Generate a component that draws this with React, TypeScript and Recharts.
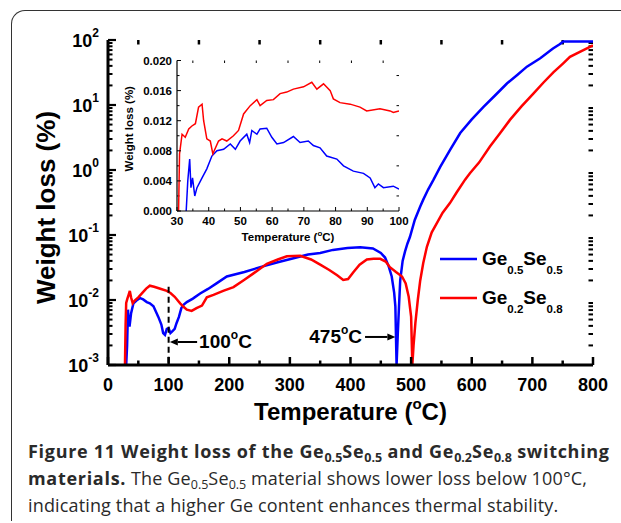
import React from "react"
import { LineChart, Line, XAxis, YAxis, ReferenceLine, Legend, Label } from "recharts"

// Ge0.5Se0.5, main TGA curve (temperature in °C, weight loss in %)
const ge55Temp = [30, 31.5, 33, 34, 35.5, 38, 42, 47, 53, 58, 64, 69, 75, 83, 88, 91, 94, 97, 100, 103, 106, 110, 113, 117, 121, 125, 130, 140, 152, 165, 179, 196, 225, 251, 280, 306, 330, 350, 371, 395, 416, 437, 450, 457, 463, 468, 472, 474, 476, 478, 480, 482, 486, 490, 494, 498, 506, 515, 520, 528, 537, 548, 565, 581, 600, 619, 640, 658, 675, 691, 713, 734, 745, 751, 800]
const ge55Loss = [0.001, 0.002, 0.0071, 0.0045, 0.0039, 0.0062, 0.0089, 0.0098, 0.0107, 0.0102, 0.0093, 0.0089, 0.008, 0.0055, 0.0042, 0.0031, 0.0029, 0.0036, 0.0037, 0.0031, 0.0033, 0.0036, 0.0044, 0.0055, 0.0075, 0.0085, 0.0093, 0.0105, 0.0126, 0.0148, 0.018, 0.023, 0.027, 0.032, 0.038, 0.044, 0.05, 0.053, 0.059, 0.063, 0.065, 0.062, 0.053, 0.045, 0.033, 0.023, 0.013, 0.008, 0.001, 0.003, 0.008, 0.02, 0.04, 0.056, 0.074, 0.093, 0.17, 0.275, 0.35, 0.5, 0.71, 1.12, 2.1, 3.7, 6.0, 9.3, 14.5, 21.4, 29, 38.9, 52.5, 74, 86, 95, 95]

// Ge0.2Se0.8, main TGA curve
const ge28Temp = [28, 29, 30, 32, 34, 36, 38, 40.7, 44, 50, 57, 63, 69, 76, 85, 97, 103, 110, 119, 125, 130, 138, 146, 155, 163, 174, 190, 207, 225, 240, 262, 280, 295, 317, 335, 350, 365, 378, 388, 396, 405, 415, 427, 438, 449, 458, 465, 475, 485, 491, 496, 500, 502, 504, 507, 511, 515, 520, 526, 534, 542, 552, 564, 575, 589, 597, 612, 630, 646, 663, 682, 702, 718, 735, 750, 762, 780, 800]
const ge28Loss = [0.001, 0.004, 0.009, 0.0105, 0.012, 0.0138, 0.011, 0.0089, 0.0098, 0.011, 0.013, 0.015, 0.0166, 0.016, 0.015, 0.0138, 0.0128, 0.0112, 0.0089, 0.0078, 0.0071, 0.0068, 0.0075, 0.0082, 0.011, 0.012, 0.0138, 0.0158, 0.0205, 0.0257, 0.036, 0.042, 0.047, 0.048, 0.042, 0.035, 0.029, 0.024, 0.0204, 0.021, 0.027, 0.035, 0.042, 0.043, 0.043, 0.039, 0.032, 0.027, 0.023, 0.018, 0.0112, 0.0055, 0.001, 0.002, 0.0044, 0.01, 0.02, 0.037, 0.066, 0.11, 0.15, 0.22, 0.31, 0.45, 0.71, 0.89, 1.3, 2.3, 3.6, 5.9, 9.5, 15.1, 22, 32, 43, 55, 67, 83]

// inset, 30-100 °C, linear scale
const ge55InsetTemp = [32.9, 33.4, 34, 34.4, 34.9, 35.6, 36.3, 37.9, 39.4, 41, 42.6, 44.7, 46.8, 48.4, 49.9, 52, 52.9, 53.6, 55.2, 56.2, 58.3, 59.9, 61.5, 63.6, 66.7, 68.8, 71.4, 73, 75.1, 77.2, 80.4, 82.5, 85.6, 88.8, 90.9, 92.4, 93.5, 95.1, 98.2, 100]
const ge55InsetLoss = [0, 0.004, 0.0069, 0.0031, 0.0044, 0.002, 0.0031, 0.0044, 0.0056, 0.0073, 0.008, 0.0082, 0.0089, 0.0082, 0.0093, 0.0102, 0.0091, 0.0107, 0.0102, 0.0109, 0.011, 0.0098, 0.0089, 0.0091, 0.0099, 0.0091, 0.0093, 0.0087, 0.0084, 0.0073, 0.0069, 0.006, 0.0053, 0.005, 0.0044, 0.0031, 0.0036, 0.0031, 0.0033, 0.0029]
const ge28InsetTemp = [30.5, 30.8, 31.6, 32.6, 33.7, 34.7, 35.8, 36.8, 37.9, 38.4, 39.4, 40.5, 41.3, 43.1, 44.2, 45.7, 47.8, 49.4, 51, 53.1, 55.2, 56.2, 58.3, 60.4, 62.5, 64.6, 66.7, 69.9, 72.5, 74.1, 76.2, 78.3, 79.3, 81.4, 84.6, 87.7, 89.8, 94, 97.2, 98.2, 100]
const ge28InsetLoss = [0, 0.0076, 0.0102, 0.0098, 0.0109, 0.0113, 0.0116, 0.0138, 0.0142, 0.012, 0.0096, 0.0093, 0.0076, 0.0093, 0.0096, 0.0093, 0.01, 0.0107, 0.0129, 0.014, 0.0148, 0.014, 0.0147, 0.0148, 0.0156, 0.0158, 0.0162, 0.0165, 0.0171, 0.0162, 0.0169, 0.016, 0.0149, 0.0144, 0.0142, 0.0138, 0.0133, 0.0136, 0.0133, 0.0131, 0.0133]

const seriesNames = ["Ge0.5Se0.5", "Ge0.2Se0.8"]
const seriesColors = ["#0000ff", "#ff0000"]

const mainXMajor = [0, 100, 200, 300, 400, 500, 600, 700, 800]
const mainXMinor = [50, 150, 250, 350, 450, 550, 650, 750]
const mainYDecades = [0.001, 0.01, 0.1, 1, 10, 100]
const mainYExponents = ["-3", "-2", "-1", "0", "1", "2"]
const insetXMajor = [30, 40, 50, 60, 70, 80, 90, 100]
const insetXMinor = [35, 45, 55, 65, 75, 85, 95]
const insetYMajor = [0, 0.004, 0.008, 0.012, 0.016, 0.02]
const insetYMinor = [0.002, 0.006, 0.01, 0.014, 0.018]

// log axis minors: 2..9 within each decade
const mainYMinor = mainYDecades.slice(0, -1).flatMap((d) => [2, 3, 4, 5, 6, 7, 8, 9].map((k) => k * d))

const toPoints = (t: number[], v: number[]) => t.map((x, i) => ({ t: x, v: v[i] }))
const ge55 = toPoints(ge55Temp, ge55Loss)
const ge28 = toPoints(ge28Temp, ge28Loss)
const ge55Inset = toPoints(ge55InsetTemp, ge55InsetLoss)
const ge28Inset = toPoints(ge28InsetTemp, ge28InsetLoss)

const FONT = "'Liberation Sans', Arial, Helvetica, sans-serif"
const boldText = { fontFamily: FONT, fontWeight: 700, fill: "#000" }

// inward ticks: negative tickSize, and tickMargin = -tickSize so that the label
// callback gets x,y on the axis line itself
const inward = (len: number, w: number) => ({
  tickSize: -len,
  tickMargin: len,
  tickLine: { stroke: "#000", strokeWidth: w },
})

const noLabel = () => <g />

const mainXLabel = (p: any) => (
  <text x={p.x} y={p.y + 26} textAnchor="middle" fontSize={18} style={boldText}>{p.payload.value}</text>
)
const mainYLabel = (p: any) => (
  <text x={p.x - 9} y={p.y + 6.5} textAnchor="end" fontSize={18} style={boldText}>
    <tspan>10</tspan>
    <tspan dy={-10} fontSize={12}>{mainYExponents[mainYDecades.indexOf(p.payload.value)]}</tspan>
  </text>
)
const insetXLabel = (p: any) => (
  <text x={p.x} y={p.y + 14} textAnchor="middle" fontSize={11.5} style={boldText}>{p.payload.value}</text>
)
const insetYLabel = (p: any) => (
  <text x={p.x - 5} y={p.y + 4} textAnchor="end" fontSize={11.5} style={boldText}>
    {Number(p.payload.value).toFixed(3)}
  </text>
)

// minor ticks: a reference line across the plot, drawn only as two short stubs at its ends
function minorStub(len: number, w: number) {
  return (p: any) => {
    const { x1, y1, x2, y2 } = p
    if (x1 === x2) {
      const top = Math.min(y1, y2)
      const bottom = Math.max(y1, y2)
      return (
        <g>
          <line x1={x1} x2={x1} y1={bottom} y2={bottom - len} stroke="#000" strokeWidth={w} />
          <line x1={x1} x2={x1} y1={top} y2={top + len} stroke="#000" strokeWidth={w} />
        </g>
      )
    }
    const left = Math.min(x1, x2)
    const right = Math.max(x1, x2)
    return (
      <g>
        <line x1={left} x2={left + len} y1={y1} y2={y1} stroke="#000" strokeWidth={w} />
        <line x1={right} x2={right - len} y1={y1} y2={y1} stroke="#000" strokeWidth={w} />
      </g>
    )
  }
}

function ChemName({ name, size, sub }: { name: string; size: number; sub: number }) {
  const parts = name.match(/[A-Z][a-z]*|[\d.]+/g) || []
  return (
    <span style={{ fontFamily: FONT, fontWeight: 700, fontSize: size, color: "#000", whiteSpace: "nowrap" }}>
      {parts.map((p, i) =>
        /^[\d.]+$/.test(p) ? (
          <span key={i} style={{ fontSize: sub, position: "relative", top: 9 }}>{p}</span>
        ) : (
          <span key={i}>{p}</span>
        )
      )}
    </span>
  )
}

function renderLegend(props: any) {
  const items = (props.payload || [])
    .filter((e: any) => seriesNames.includes(e.value))
    .sort((a: any, b: any) => seriesNames.indexOf(a.value) - seriesNames.indexOf(b.value))
  return (
    <div>
      {items.map((e: any) => (
        <div key={e.value} style={{ display: "flex", alignItems: "center", height: 39 }}>
          <svg width={42} height={8} style={{ marginRight: 2 }}>
            <line x1={2} x2={39} y1={4} y2={4} stroke={e.color} strokeWidth={2.5} />
          </svg>
          <ChemName name={e.value} size={19} sub={11.5} />
        </div>
      ))}
    </div>
  )
}

// arrow from (x1,y1) to the head at (x2,y2), with the temperature written at the tail
function arrowShape(text: string, textSide: "left" | "right") {
  return (p: any) => {
    const { x1, y1, x2, y2 } = p
    const dir = Math.sign(x2 - x1) || 1
    const head = 8
    return (
      <g>
        <line x1={x1} y1={y1} x2={x2 - dir * head} y2={y2} stroke="#000" strokeWidth={2} />
        <polygon
          points={`${x2},${y2} ${x2 - dir * head},${y2 - 3.5} ${x2 - dir * head},${y2 + 3.5}`}
          fill="#000"
        />
        <text
          x={textSide === "right" ? x1 + 2 : x1 - 3}
          y={y1 + 6.5}
          textAnchor={textSide === "right" ? "start" : "end"}
          fontSize={19}
          style={boldText}
        >
          <tspan>{text}</tspan>
          <tspan dy={-9} fontSize={12}>o</tspan>
          <tspan dy={9}>C</tspan>
        </text>
      </g>
    )
  }
}

const num = { type: "number" as const, interval: 0 as const, allowDataOverflow: true }

function MainChart() {
  const axisLine = { stroke: "#000", strokeWidth: 3 }
  const xDom: [number, number] = [0, 800]
  const yDom: [number, number] = [0.001, 100]
  return (
    <LineChart width={621} height={430} margin={{ top: 40, right: 28, bottom: 35, left: 38 }}>
      <XAxis {...num} {...inward(8, 2.5)} xAxisId="bottom" dataKey="t" domain={xDom}
        ticks={mainXMajor} height={30} tick={mainXLabel} axisLine={axisLine}>
        <Label
          content={(p: any) => {
            const vb = p.viewBox
            return (
              <text x={vb.x + vb.width / 2} y={vb.y + 55} textAnchor="middle" fontSize={24} style={boldText}>
                <tspan>Temperature (</tspan>
                <tspan dy={-11} fontSize={15}>o</tspan>
                <tspan dy={11}>C)</tspan>
              </text>
            )
          }}
        />
      </XAxis>
      <XAxis {...num} {...inward(8, 2.5)} xAxisId="top" orientation="top" dataKey="t" domain={xDom}
        ticks={mainXMajor} height={0} tick={noLabel} axisLine={axisLine} />
      <YAxis {...num} {...inward(8, 2.2)} yAxisId="left" scale="log" domain={yDom}
        ticks={mainYDecades} width={70} tick={mainYLabel} axisLine={axisLine}>
        <Label
          content={(p: any) => {
            const vb = p.viewBox
            return (
              <text
                transform={`translate(${vb.x + 17}, ${vb.y + vb.height / 2 + 5}) rotate(-90)`}
                textAnchor="middle"
                fontSize={26}
                style={boldText}
              >
                Weight loss (%)
              </text>
            )
          }}
        />
      </YAxis>
      <YAxis {...num} {...inward(8, 2.2)} yAxisId="right" orientation="right" scale="log" domain={yDom}
        ticks={mainYDecades} width={0} tick={noLabel} axisLine={axisLine} />

      {/* invisible copy keeps the top/right frame axes bound to data */}
      <Line xAxisId="top" yAxisId="right" data={ge55} dataKey="v" stroke="none" dot={false}
        activeDot={false} legendType="none" isAnimationActive={false} />

      {mainXMinor.map((v) => (
        <ReferenceLine key={`mx${v}`} xAxisId="bottom" yAxisId="left" x={v} shape={minorStub(4.5, 2.5)} />
      ))}
      {mainYMinor.map((v) => (
        <ReferenceLine key={`my${v}`} xAxisId="bottom" yAxisId="left" y={v} shape={minorStub(4.5, 2)} />
      ))}

      <Line xAxisId="bottom" yAxisId="left" data={ge55} dataKey="v" name={seriesNames[0]}
        stroke={seriesColors[0]} strokeWidth={2.5} dot={false} isAnimationActive={false} />
      <Line xAxisId="bottom" yAxisId="left" data={ge28} dataKey="v" name={seriesNames[1]}
        stroke={seriesColors[1]} strokeWidth={2.5} dot={false} isAnimationActive={false} />

      <ReferenceLine
        xAxisId="bottom"
        yAxisId="left"
        ifOverflow="visible"
        segment={[{ x: 100, y: 0.016 }, { x: 100, y: 0.001 }]}
        stroke="#000"
        strokeWidth={2}
        strokeDasharray="6 4"
      />
      <ReferenceLine
        xAxisId="bottom"
        yAxisId="left"
        ifOverflow="visible"
        segment={[{ x: 147, y: 0.00226 }, { x: 102, y: 0.00226 }]}
        shape={arrowShape("100", "right")}
      />
      <ReferenceLine
        xAxisId="bottom"
        yAxisId="left"
        ifOverflow="visible"
        segment={[{ x: 424, y: 0.0027 }, { x: 474, y: 0.0027 }]}
        shape={arrowShape("475", "left")}
      />

      <Legend
        layout="vertical"
        align="center"
        verticalAlign="middle"
        wrapperStyle={{ left: 438, top: 239, width: 170 }}
        content={renderLegend}
      />
    </LineChart>
  )
}

function InsetChart() {
  const axisLine = { stroke: "#000", strokeWidth: 1.2 }
  const xDom: [number, number] = [30, 100]
  const yDom: [number, number] = [0, 0.02]
  return (
    <LineChart width={300} height={200} margin={{ top: 10.5, right: 11, bottom: 14, left: 12 }}>
      <XAxis {...num} {...inward(4, 1)} xAxisId="bottom" dataKey="t" domain={xDom}
        ticks={insetXMajor} height={25} tick={insetXLabel} axisLine={axisLine}>
        <Label
          content={(p: any) => {
            const vb = p.viewBox
            return (
              <text x={vb.x + vb.width / 2} y={vb.y + 30} textAnchor="middle" fontSize={11.5} style={boldText}>
                <tspan>Temperature (</tspan>
                <tspan dy={-5} fontSize={8}>o</tspan>
                <tspan dy={5}>C)</tspan>
              </text>
            )
          }}
        />
      </XAxis>
      <XAxis {...num} {...inward(4, 1)} xAxisId="top" orientation="top" dataKey="t" domain={xDom}
        ticks={insetXMajor} height={0} tick={noLabel} axisLine={axisLine} />
      <YAxis {...num} {...inward(4, 1)} yAxisId="left" domain={yDom}
        ticks={insetYMajor} width={55} tick={insetYLabel} axisLine={axisLine}>
        <Label
          content={(p: any) => {
            const vb = p.viewBox
            return (
              <text
                transform={`translate(${vb.x + 11}, ${vb.y + vb.height / 2 - 7}) rotate(-90)`}
                textAnchor="middle"
                fontSize={11.5}
                style={boldText}
              >
                Weight loss (%)
              </text>
            )
          }}
        />
      </YAxis>
      <YAxis {...num} {...inward(4, 1)} yAxisId="right" orientation="right" domain={yDom}
        ticks={insetYMajor} width={0} tick={noLabel} axisLine={axisLine} />

      <Line xAxisId="top" yAxisId="right" data={ge55Inset} dataKey="v" stroke="none" dot={false}
        activeDot={false} legendType="none" isAnimationActive={false} />

      {insetXMinor.map((v) => (
        <ReferenceLine key={`ix${v}`} xAxisId="bottom" yAxisId="left" x={v} shape={minorStub(2.5, 1)} />
      ))}
      {insetYMinor.map((v) => (
        <ReferenceLine key={`iy${v}`} xAxisId="bottom" yAxisId="left" y={v} shape={minorStub(2.5, 1)} />
      ))}

      <Line xAxisId="bottom" yAxisId="left" data={ge55Inset} dataKey="v" name={seriesNames[0]}
        stroke={seriesColors[0]} strokeWidth={1.5} dot={false} isAnimationActive={false} />
      <Line xAxisId="bottom" yAxisId="left" data={ge28Inset} dataKey="v" name={seriesNames[1]}
        stroke={seriesColors[1]} strokeWidth={1.5} dot={false} isAnimationActive={false} />
    </LineChart>
  )
}

const sub = (s: string) => (
  <span style={{ fontSize: 12.5, position: "relative", top: 4, letterSpacing: 0 }}>{s}</span>
)

export default function App() {
  return (
    <div style={{ position: "relative", width: 621, height: 523, overflow: "hidden", background: "#fff" }}>
      <style>{"body{margin:0}"}</style>
      <div
        style={{
          position: "absolute", left: 11, top: 10, width: 700, height: 510,
          borderLeft: "1.5px solid #333", borderTop: "1.5px solid #333", borderTopLeftRadius: 14,
        }}
      />
      <div style={{ position: "absolute", left: 0, top: 0 }}>
        <MainChart />
      </div>
      <div style={{ position: "absolute", left: 110, top: 50 }}>
        <InsetChart />
      </div>
      <div
        style={{
          position: "absolute", left: 28, top: 439, whiteSpace: "nowrap", letterSpacing: 0.15,
          fontFamily: "'Open Sans', sans-serif", fontSize: 18, lineHeight: "24px", color: "#2a2a2a",
        }}
      >
        <b style={{ letterSpacing: 0.7 }}>
          Figure 11 Weight loss of the Ge{sub("0.5")}Se{sub("0.5")} and Ge{sub("0.2")}Se{sub("0.8")} switching
        </b>
        <br />
        <b style={{ letterSpacing: 0.7 }}>materials.</b> The Ge{sub("0.5")}Se{sub("0.5")} material shows lower loss below 100°C,
        <br />
        indicating that a higher Ge content enhances thermal stability.
      </div>
    </div>
  )
}
